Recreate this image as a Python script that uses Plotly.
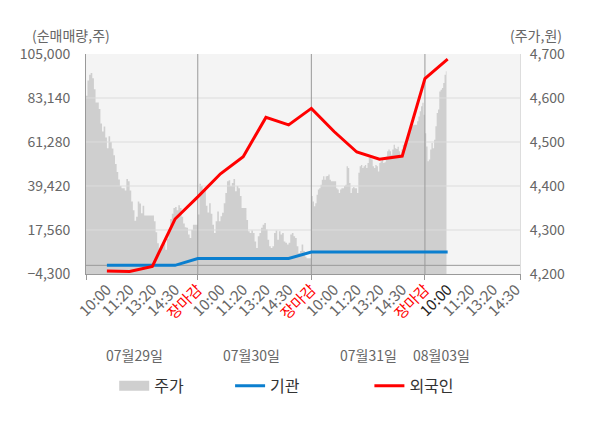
import plotly.graph_objects as go

# 일자 / 시간 라벨
days = ['07월29일', '07월30일', '07월31일', '08월03일']
tick_times = ['10:00', '11:20', '13:20', '14:30', '장마감']

# 주가 (원) - 일자별 흐름
price_0729 = [4585, 4605, 4640, 4653, 4657, 4645, 4620, 4590, 4590, 4575,
              4542, 4524, 4535, 4510, 4486, 4513, 4500, 4485, 4470, 4450,
              4432, 4415, 4400, 4395, 4395, 4390, 4416, 4411, 4390, 4365,
              4345, 4321, 4330, 4365, 4360, 4338, 4355, 4333, 4333, 4333,
              4333, 4333, 4333, 4320, 4295, 4270, 4250, 4265, 4262, 4270,
              4255, 4280, 4300, 4325, 4337, 4350, 4352, 4345, 4356, 4350,
              4330, 4315, 4306, 4305, 4290, 4282, 4300, 4312, 4312, 4312]
price_0730 = [4335, 4405, 4400, 4388, 4392, 4355, 4340, 4361, 4337, 4312,
              4293, 4320, 4342, 4320, 4331, 4339, 4361, 4384, 4411, 4413,
              4400, 4407, 4416, 4388, 4400, 4395, 4377, 4350, 4350, 4350,
              4323, 4297, 4293, 4299, 4293, 4274, 4259, 4286, 4293, 4305,
              4312, 4316, 4301, 4278, 4263, 4259, 4263, 4293, 4299, 4278,
              4297, 4290, 4293, 4274, 4271, 4267, 4271, 4290, 4293, 4286,
              4282, 4263, 4248, 4252, 4267, 4252, 4240, 4236, 4236, 4236]
price_0731 = [4377, 4365, 4354, 4361, 4380, 4392, 4395, 4403, 4414, 4422,
              4414, 4422, 4423, 4426, 4414, 4411, 4411, 4411, 4411, 4395,
              4392, 4384, 4392, 4395, 4395, 4400, 4403, 4445, 4441, 4407,
              4384, 4395, 4398, 4395, 4395, 4384, 4430, 4445, 4448, 4441,
              4445, 4448, 4441, 4452, 4464, 4467, 4460, 4445, 4441, 4448,
              4445, 4433, 4452, 4456, 4460, 4452, 4454, 4467, 4479, 4483,
              4479, 4471, 4483, 4494, 4486, 4484, 4489, 4479, 4471, 4483,
              4494, 4499, 4501, 4509, 4517, 4524, 4532, 4536, 4539, 4539,
              4539, 4547, 4558, 4570, 4581, 4589, 4562]
price_0803 = [4520, 4490, 4456, 4460, 4483, 4498, 4486, 4505, 4536, 4566,
              4574, 4615, 4619, 4623, 4634, 4653, 4661]

# 순매매량 (주) - 시간대별
inst_net = [0, 0, 0, 0, 3400,
            3400, 3400, 3400, 3400, 6600,
            6600, 6600, 6600, 6600, 6600,
            6600]
foreign_net = [-2800, -3000, -500, 23000, 34000,
               45500, 54000, 73500, 69800, 78000,
               66500, 56300, 52700, 54300, 92800,
               102500]

vol_ticks = [-4300, 17560, 39420, 61280, 83140, 105000]
price_ticks = [4200, 4300, 4400, 4500, 4600, 4700]

FONT = 'Noto Sans CJK KR'
DAY = 100
X0, X1 = 1.6, 383.7

# 주가 x 위치 (하루 = 100)
price_days = [price_0729, price_0730, price_0731, price_0803]
price_x, price_y = [], []
step = 1.0
for d, vals in enumerate(price_days):
    if d < len(price_days) - 1:
        step = DAY / len(vals)
    for i, v in enumerate(vals):
        price_x.append(d * DAY + (i + 0.5) * step)
        price_y.append(v)

# 순매매 포인트 x 위치
point_x = [(i // 5) * DAY + (i % 5 + 1) * 20 for i in range(len(foreign_net))]

# x축 라벨
tickvals, ticktext = [], []
for d in range(len(days)):
    for k, t in enumerate(tick_times):
        if d == len(days) - 1 and t == '장마감':
            continue
        tickvals.append(d * DAY + (k + 1) * 20)
        if t == '장마감':
            ticktext.append('<span style="color:#ff0000">장마감</span>')
        elif d == len(days) - 1 and k == 0:
            ticktext.append('<span style="color:#222222">' + t + '</span>')
        else:
            ticktext.append(t)

fig = go.Figure()

# 주가 영역
fig.add_trace(go.Scatter(x=price_x, y=price_y, mode='lines', fill='tozeroy',
                         fillcolor='#cfcfcf', line=dict(width=0, shape='hvh'),
                         showlegend=False, hoverinfo='skip'))

# 가로 그리드 (주가 영역 위)
for v in price_ticks[1:-1]:
    fig.add_trace(go.Scatter(x=[X0, X1], y=[v, v], mode='lines',
                             line=dict(color='#dcdcdc', width=1),
                             showlegend=False, hoverinfo='skip'))

# 일자 구분선, 0 기준선
for d in range(1, len(days)):
    fig.add_trace(go.Scatter(x=[d * DAY, d * DAY], y=[vol_ticks[0], vol_ticks[-1]],
                             mode='lines', line=dict(color='#999999', width=1),
                             yaxis='y2', showlegend=False, hoverinfo='skip'))
fig.add_trace(go.Scatter(x=[X0, X1], y=[0, 0], mode='lines',
                         line=dict(color='#999999', width=1),
                         yaxis='y2', showlegend=False, hoverinfo='skip'))

# 범례용
fig.add_trace(go.Scatter(x=[None], y=[None], mode='lines', name='주가',
                         line=dict(color='#cfcfcf', width=10), legend='legend'))

fig.add_trace(go.Scatter(x=point_x, y=inst_net, mode='lines', name='기관',
                         line=dict(color='#0b7fcf', width=3), yaxis='y2',
                         legend='legend2'))
fig.add_trace(go.Scatter(x=point_x, y=foreign_net, mode='lines', name='외국인',
                         line=dict(color='#ff0000', width=3), yaxis='y2',
                         legend='legend3'))

legend_style = dict(orientation='h', yanchor='middle', y=-0.508, xanchor='left',
                    font=dict(family=FONT, size=16, color='#333333'),
                    bgcolor='rgba(0,0,0,0)')

annotations = [
    dict(text='(순매매량,주)', x=-0.034, y=1.086, xref='paper', yref='paper',
         showarrow=False, xanchor='center', yanchor='middle',
         font=dict(family=FONT, size=14, color='#666666')),
    dict(text='(주가,원)', x=1.036, y=1.086, xref='paper', yref='paper',
         showarrow=False, xanchor='center', yanchor='middle',
         font=dict(family=FONT, size=14, color='#666666')),
]
date_label_x = [44, 147, 250, 315]
for lx, dname in zip(date_label_x, days):
    annotations.append(dict(text=dname, x=lx, y=-0.368, xref='x', yref='paper',
                            showarrow=False, xanchor='center', yanchor='middle',
                            font=dict(family=FONT, size=14, color='#666666')))

# 페이지 기본 여백(8px)을 감안한 크기
fig.update_layout(
    width=592, height=420,
    margin=dict(l=68, r=80, t=46, b=154),
    paper_bgcolor='white', plot_bgcolor='#f4f4f4',
    font=dict(family=FONT, size=14, color='#666666'),
    legend=dict(legend_style, x=0.065),
    legend2=dict(legend_style, x=0.332),
    legend3=dict(legend_style, x=0.653),
    annotations=annotations,
    xaxis=dict(range=[X0, X1], tickmode='array', tickvals=tickvals, ticktext=ticktext,
               tickangle=-45, tickfont=dict(family=FONT, size=15, color='#666666'),
               showgrid=False, zeroline=False, showline=True, linecolor='#999999',
               ticks='',
               minor=dict(tickmode='array', tickvals=[X0, 100, 200, 300, X1],
                          ticks='outside', ticklen=5, tickcolor='#999999', showgrid=False)),
    yaxis=dict(range=[4200, 4700], side='right', tickmode='array', tickvals=price_ticks,
               tickformat=',', showgrid=False, zeroline=False, showline=True,
               linecolor='#dddddd', ticks='', ticklabelstandoff=6,
               tickfont=dict(family=FONT, size=14, color='#666666')),
    yaxis2=dict(range=[vol_ticks[0], vol_ticks[-1]], side='left', overlaying='y',
                tickmode='array', tickvals=vol_ticks, tickformat=',', showgrid=False,
                zeroline=False, showline=True, linecolor='#999999', ticks='',
                ticklabelstandoff=12,
                tickfont=dict(family=FONT, size=14, color='#666666')),
)

fig.write_html("out.html")
